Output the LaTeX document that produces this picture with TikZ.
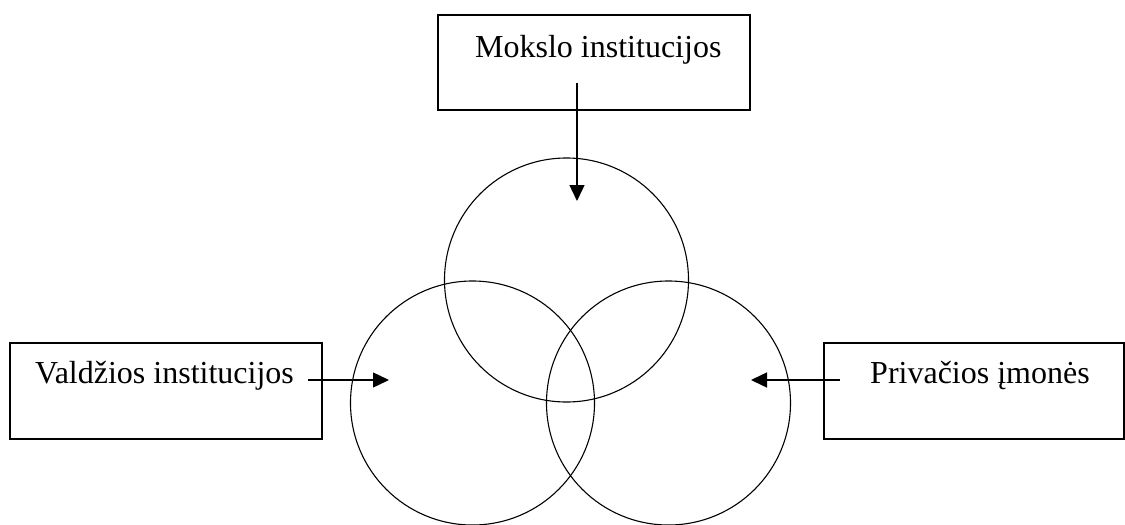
\documentclass[tikz,border=0pt]{standalone}
\usepackage{fontspec}
\setmainfont{Liberation Serif}
\usetikzlibrary{arrows.meta}
\begin{document}
\begin{tikzpicture}[x=1pt,y=-1pt,
  boxstyle/.style={draw,line width=1.3pt,inner sep=0pt,outer sep=0pt},
  lbl/.style={inner sep=0pt,anchor=base west,font=\fontsize{32}{38}\selectfont},
  ring/.style={draw,line width=1.1pt},
  arr/.style={line width=1.4pt,-{Triangle[length=16pt,width=15pt]}}]
\useasboundingbox (0,0) rectangle (1125,525);
% boxes
\node[boxstyle,minimum width=312pt,minimum height=95pt] (topbox) at (594,62.5) {};
\node[boxstyle,minimum width=312pt,minimum height=96pt] (leftbox) at (166,391) {};
\node[boxstyle,minimum width=300pt,minimum height=96pt] (rightbox) at (974,391) {};
% texts
\node[lbl] (toptxt) at (475,57) {Mokslo institucijos};
\node[lbl] (lefttxt) at (35,383) {Valdžios institucijos};
\node[lbl] (righttxt) at (870,383) {Privačios įmonės};
% circles
\draw[ring] (566.5,280) circle[radius=122];
\draw[ring] (472.5,403) circle[radius=122];
\draw[ring] (668.5,403) circle[radius=122];
% arrow endpoints
\coordinate (ta) at (577,83);
\coordinate (tb) at (577,201);
\coordinate (la) at (308,380);
\coordinate (lb) at (389,380);
\coordinate (ra) at (840,380);
\coordinate (rb) at (751,380);
\draw[arr] (ta) -- (tb);
\draw[arr] (la) -- (lb);
\draw[arr] (ra) -- (rb);
\end{tikzpicture}
\end{document}
